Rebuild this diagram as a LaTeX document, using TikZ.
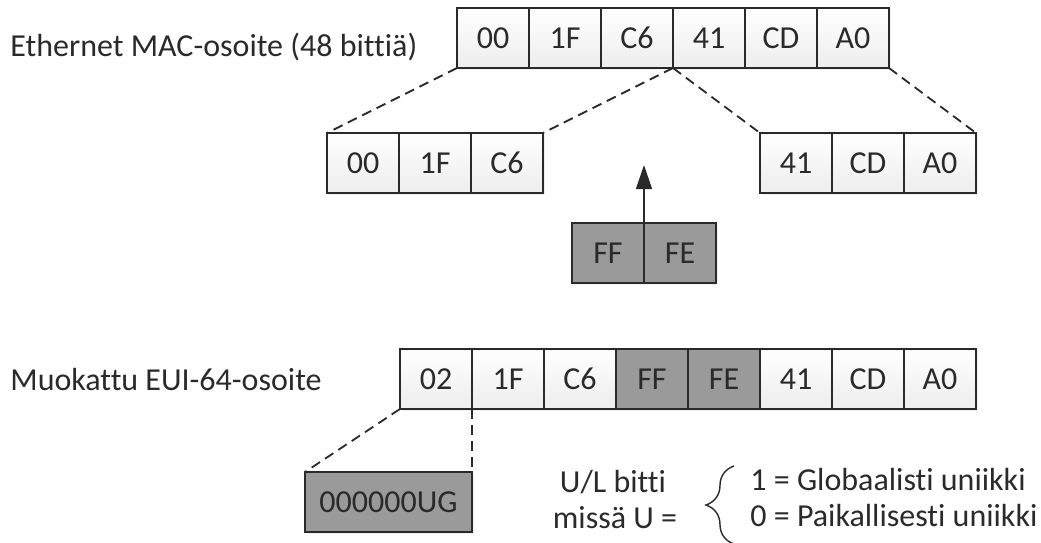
\documentclass[tikz,border=0pt]{standalone}
\usepackage{fontspec}
\setmainfont{Carlito}[Ligatures=NoCommon]
\usetikzlibrary{positioning,arrows.meta,decorations.pathreplacing,shadows}
\definecolor{cellgray}{HTML}{EDEDED}
\definecolor{darkcell}{HTML}{9A9A9A}
\definecolor{inkgray}{HTML}{2A2A2A}
\newcommand{\cellfont}{\fontsize{16}{18}\selectfont}
\tikzset{
  cellbase/.style={rectangle, draw=inkgray, line width=0.9pt, minimum width=36pt,
              minimum height=30pt, inner sep=0pt, outer sep=0pt, text=inkgray,
              font=\cellfont, drop shadow={shadow xshift=1.2pt, shadow yshift=-1.2pt,
              opacity=0.12}},
  cell/.style={cellbase, top color=white, bottom color=cellgray},
  dcell/.style={cellbase, fill=darkcell},
  lbl/.style={font=\cellfont, text=inkgray, inner sep=0pt},
  split/.style={draw=inkgray, line width=0.9pt, dash pattern=on 5pt off 3pt},
  arr/.style={-{Triangle[length=12pt, width=8pt]}, draw=inkgray, line width=0.6pt},
  brc/.style={draw=inkgray, line width=0.7pt, decorate,
              decoration={brace, amplitude=14pt}}
}
\begin{document}
\begin{tikzpicture}[x=0.5pt, y=-0.5pt, node distance=0pt]
  \useasboundingbox (0,0) rectangle (1041,542);

  % 48-bit MAC
  \node[lbl, anchor=base west] (maclbl) at (10,56) {Ethernet MAC-osoite (48 bittiä)};
  \node[cell] (m1) at (493,38) {00};
  \node[cell, right=of m1] (m2) {1F};
  \node[cell, right=of m2] (m3) {C6};
  \node[cell, right=of m3] (m4) {41};
  \node[cell, right=of m4] (m5) {CD};
  \node[cell, right=of m5] (m6) {A0};

  % split halves
  \node[cell] (l1) at (363,163) {00};
  \node[cell, right=of l1] (l2) {1F};
  \node[cell, right=of l2] (l3) {C6};
  \node[cell] (r1) at (796,163) {41};
  \node[cell, right=of r1] (r2) {CD};
  \node[cell, right=of r2] (r3) {A0};
  \draw[split] (m1.south west)--(l1.north west); \draw[split] (m3.south east)--(l3.north east);
  \draw[split] (m4.south west)--(r1.north west); \draw[split] (m6.south east)--(r3.north east);

  % inserted FFFE
  \node[dcell] (f1) at (608,253) {FF};
  \node[dcell, right=of f1] (f2) {FE};
  \coordinate (ins) at (644,165);
  \draw[arr] (f1.north east)--(ins);

  % modified EUI-64
  \node[lbl, anchor=base west] (euilbl) at (10,390) {Muokattu EUI-64-osoite};
  \node[cell] (e1) at (436,379) {02};
  \node[cell, right=of e1] (e2) {1F};
  \node[cell, right=of e2] (e3) {C6};
  \node[dcell, right=of e3] (e4) {FF};
  \node[dcell, right=of e4] (e5) {FE};
  \node[cell, right=of e5] (e6) {41};
  \node[cell, right=of e6] (e7) {CD};
  \node[cell, right=of e7] (e8) {A0};

  % first byte bits
  \node[dcell, minimum width=83.5pt] (ug) at (388.5,502) {000000UG};
  \draw[split] (e1.south west)--(ug.north west); \draw[split] (e1.south east)--(ug.north east);

  % U/L legend
  \node[lbl, anchor=base] (ul) at (613,492) {U/L bitti};
  \node[lbl, anchor=base] (where) at (615,528) {missä U =};
  \coordinate (bbot) at (734,544); \coordinate (btop) at (734,466);
  \draw[brc] (bbot)--(btop);
  \node[lbl, anchor=base west] (glob) at (750,490) {1 = Globaalisti uniikki};
  \node[lbl, anchor=base west] (loc) at (750,526) {0 = Paikallisesti uniikki};
\end{tikzpicture}
\end{document}
